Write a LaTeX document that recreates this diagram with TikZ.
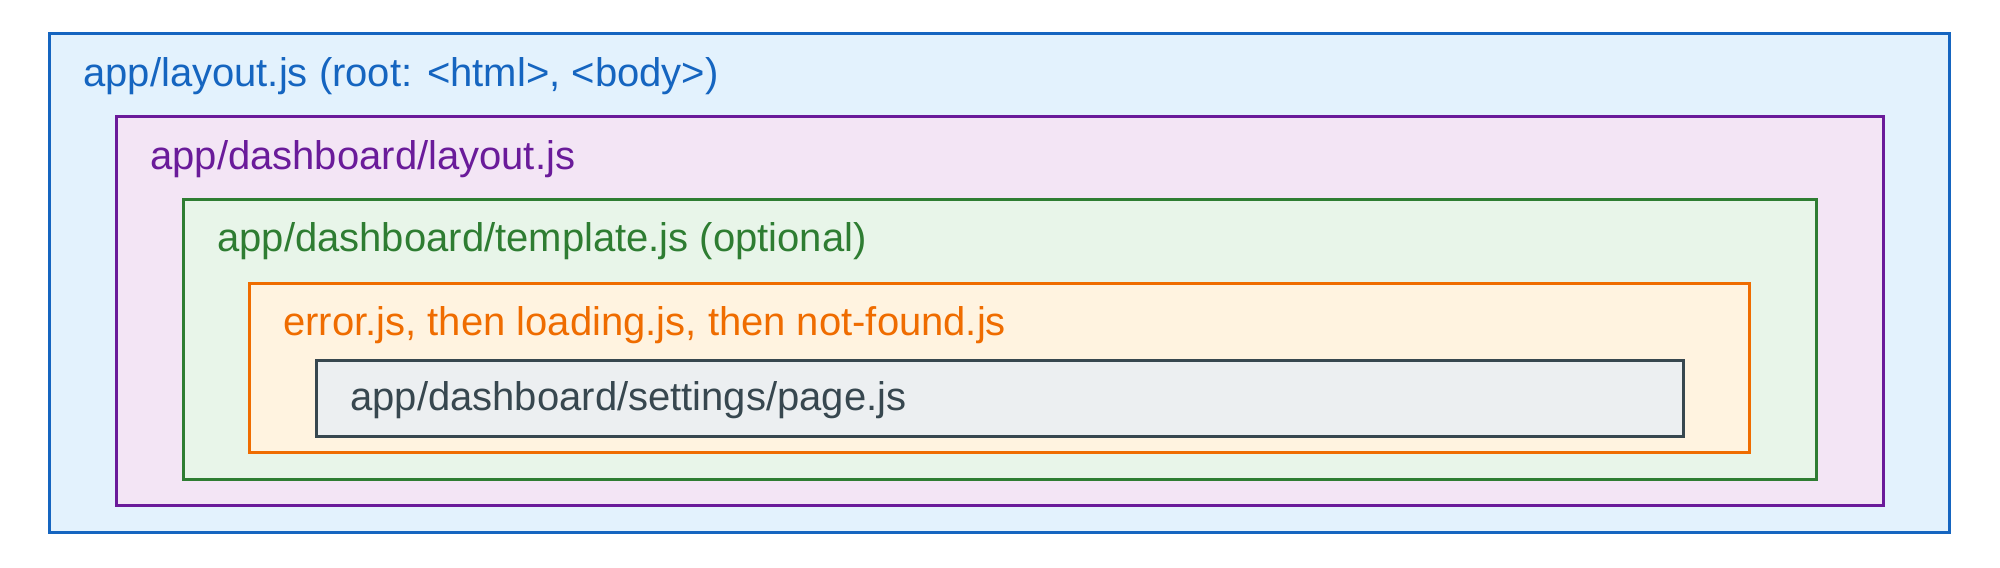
\documentclass[tikz,border=0pt]{standalone}
\usepackage{fontspec}
\setmainfont{Liberation Sans}
\definecolor{bluel}{HTML}{1565C0}\definecolor{bluef}{HTML}{E3F2FD}
\definecolor{purl}{HTML}{6A1B9A}\definecolor{purf}{HTML}{F3E5F5}
\definecolor{grnl}{HTML}{2E7D32}\definecolor{grnf}{HTML}{E8F5E9}
\definecolor{orgl}{HTML}{EF6C00}\definecolor{orgf}{HTML}{FFF3E0}
\definecolor{gryl}{HTML}{37474F}\definecolor{gryf}{HTML}{ECEFF1}
\begin{document}
\begin{tikzpicture}[x=0.5pt,y=-0.5pt,
  frame/.style={line width=1.5pt},
  lbl/.style={anchor=base west,inner sep=0pt,font=\fontsize{20pt}{24pt}\selectfont}]
\useasboundingbox[fill=white] (0,0) rectangle (2000,567);
\draw[frame,draw=bluel,fill=bluef] (49.5,33.5) rectangle (1949.5,532.5);
\node[lbl,text=bluel] (t1) at (83,86.5) {app/layout.js (root: <html>, <body>)};
\draw[frame,draw=purl,fill=purf] (116.5,116.5) rectangle (1883.5,505.5);
\node[lbl,text=purl] (t2) at (150,169) {app/dashboard/layout.js};
\draw[frame,draw=grnl,fill=grnf] (183.5,199.5) rectangle (1816.5,479);
\node[lbl,text=grnl] (t3) at (217,251.5) {app/dashboard/template.js (optional)};
\draw[frame,draw=orgl,fill=orgf] (249.5,283) rectangle (1749.5,452.5);
\node[lbl,text=orgl] (t4) at (283,335.5) {error.js, then loading.js, then not-found.js};
\draw[frame,draw=gryl,fill=gryf] (316.5,360.5) rectangle (1683.5,436);
\node[lbl,text=gryl] (t5) at (350,410.5) {app/dashboard/settings/page.js};
\end{tikzpicture}
\end{document}
